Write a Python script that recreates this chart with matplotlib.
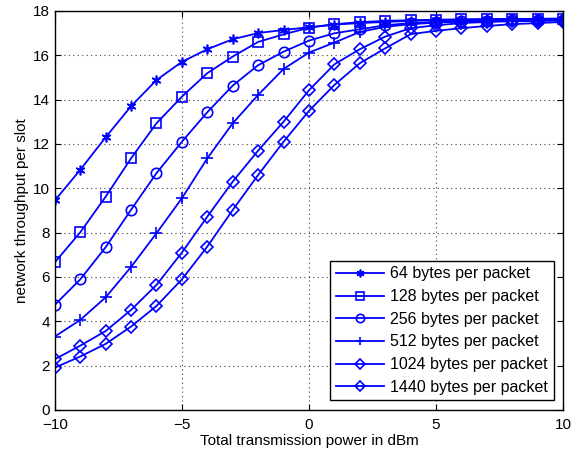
import matplotlib
matplotlib.use('Agg')
import matplotlib.pyplot as plt

plt.rcParams['font.family'] = ['Liberation Sans', 'DejaVu Sans']

power_dbm = list(range(-10, 11))

tp_64 = [9.45, 10.83, 12.3, 13.7, 14.88, 15.7, 16.27, 16.72, 17.0, 17.14, 17.26,
         17.38, 17.45, 17.5, 17.55, 17.58, 17.6, 17.62, 17.63, 17.64, 17.65]
tp_128 = [6.66, 8.01, 9.62, 11.35, 12.93, 14.13, 15.19, 15.94, 16.6, 16.94, 17.24,
          17.4, 17.49, 17.55, 17.58, 17.6, 17.62, 17.63, 17.64, 17.64, 17.65]
tp_256 = [4.74, 5.89, 7.34, 9.03, 10.68, 12.1, 13.43, 14.63, 15.55, 16.16, 16.66,
          16.99, 17.17, 17.35, 17.45, 17.5, 17.54, 17.56, 17.58, 17.59, 17.6]
tp_512 = [3.31, 4.06, 5.08, 6.45, 7.97, 9.55, 11.35, 12.93, 14.21, 15.38, 16.12,
          16.57, 17.05, 17.28, 17.4, 17.47, 17.52, 17.55, 17.57, 17.58, 17.59]
tp_1024 = [2.29, 2.9, 3.56, 4.51, 5.64, 7.1, 8.72, 10.3, 11.7, 13.0, 14.42,
           15.59, 16.27, 16.84, 17.22, 17.35, 17.45, 17.5, 17.53, 17.55, 17.56]
tp_1440 = [1.91, 2.41, 2.98, 3.76, 4.69, 5.89, 7.37, 9.02, 10.6, 12.1, 13.49,
           14.66, 15.64, 16.31, 16.95, 17.1, 17.22, 17.32, 17.4, 17.45, 17.5]

series = [
    (tp_64, (6, 2, 0), 7, '64 bytes per packet'),
    (tp_128, 's', 7, '128 bytes per packet'),
    (tp_256, 'o', 7.5, '256 bytes per packet'),
    (tp_512, '+', 8, '512 bytes per packet'),
    (tp_1024, 'D', 6, '1024 bytes per packet'),
    (tp_1440, 'D', 6, '1440 bytes per packet'),
]

fig = plt.figure(figsize=(5.77, 4.53), dpi=100)
ax = fig.add_axes([0.095, 0.095, 0.881, 0.881])

for vals, mk, ms, lbl in series:
    ax.plot(power_dbm, vals, color='blue', linewidth=1.3, marker=mk,
            markersize=ms, markerfacecolor='none', markeredgecolor='blue',
            markeredgewidth=1.2, label=lbl)

ax.set_xlim(-10, 10)
ax.set_ylim(0, 18)
ax.set_xticks([-10, -5, 0, 5, 10])
ax.set_xticklabels(['\u221210', '\u22125', '0', '5', '10'])
ax.set_yticks(range(0, 19, 2))
ax.grid(True, linestyle=(0, (1, 3)), color='#444444', linewidth=0.8)
ax.tick_params(direction='in', top=True, right=True, labelsize=11, length=4)
ax.tick_params(axis='x', pad=6)
for sp in ax.spines.values():
    sp.set_linewidth(1.0)

ax.set_xlabel('Total transmission power in dBm', fontsize=11, labelpad=1)
ax.set_ylabel('network throughput per slot', fontsize=11, labelpad=3)

leg = ax.legend(loc='lower right', fontsize=11.5, fancybox=False, framealpha=1,
                edgecolor='black', borderaxespad=0.6, handlelength=3.0,
                labelspacing=0.48, borderpad=0.35, handletextpad=0.4,
                markerscale=0.8)
leg.get_frame().set_linewidth(1.0)

fig.savefig('out.png', dpi=100)
